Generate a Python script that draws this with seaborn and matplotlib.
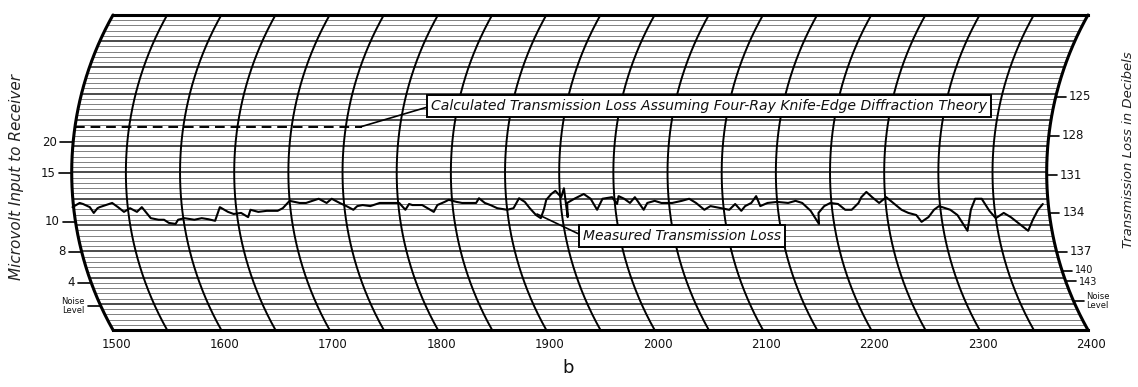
import numpy as np
import pandas as pd
import matplotlib
matplotlib.use("Agg")
import matplotlib.pyplot as plt
import seaborn as sns

# ---------------- data ----------------
time_ticks = [1500, 1600, 1700, 1800, 1900, 2000, 2100, 2200, 2300, 2400]
time_lines = list(range(1500, 2401, 50))

left_tick_labels = ["20", "15", "10", "8", "4", "Noise\nLevel"]
left_tick_levels = [35.8, 29.9, 20.6, 14.9, 9.0, 4.6]

right_tick_labels = ["125", "128", "131", "134", "137", "140", "143", "Noise\nLevel"]
right_tick_levels = [44.4, 37.0, 29.5, 22.3, 14.9, 11.2, 9.3, 5.5]

calc_level = 38.7
calc_time = [1500, 1765]

trace_time = [1499, 1506, 1509, 1515, 1518, 1522, 1524, 1536, 1541, 1546, 1552, 1558,
              1563, 1570, 1577, 1582, 1586, 1592, 1595, 1601, 1610, 1617, 1623, 1629,
              1635, 1642, 1647, 1654, 1660, 1663, 1670, 1678, 1688, 1693, 1700, 1709,
              1715, 1721, 1727, 1734, 1739, 1746, 1752, 1758, 1762, 1767, 1774, 1783,
              1792, 1801, 1806, 1810, 1813, 1822, 1829, 1832, 1836, 1843, 1847, 1854,
              1859, 1866, 1872, 1875, 1880, 1885, 1891, 1900, 1906, 1912, 1917, 1921,
              1926, 1930, 1934, 1937, 1942, 1946, 1951, 1954, 1955, 1956, 1963, 1972,
              1978, 1983, 1989, 1998, 2002, 2004, 2009, 2014, 2019, 2026, 2030, 2037,
              2043, 2053, 2062, 2069, 2075, 2082, 2088, 2098, 2105, 2111, 2116, 2120,
              2126, 2131, 2134, 2141, 2150, 2160, 2167, 2173, 2180, 2182, 2186, 2187,
              2193, 2199, 2206, 2212, 2218, 2225, 2228, 2233, 2238, 2244, 2251, 2257,
              2264, 2270, 2277, 2281, 2288, 2294, 2299, 2309, 2315, 2322, 2328, 2333,
              2339, 2345, 2350, 2358, 2364, 2371, 2378, 2384, 2390, 2395]
trace_level = [23.4, 24.2, 24.0, 23.4, 22.3, 23.2, 23.4, 24.2, 23.4, 22.5, 23.2, 22.5,
               23.4, 21.3, 21.0, 21.0, 20.4, 20.2, 21.0, 21.3, 21.0, 21.3, 21.1, 20.8,
               23.4, 22.5, 22.1, 22.3, 21.5, 22.9, 22.5, 22.7, 22.7, 23.2, 24.6, 24.2,
               24.2, 24.6, 25.0, 24.2, 25.0, 24.2, 23.6, 22.9, 23.6, 23.8, 23.6, 24.2,
               24.2, 24.2, 22.9, 24.0, 23.8, 23.8, 22.9, 22.5, 23.8, 24.4, 24.8, 24.4,
               24.2, 24.2, 24.2, 25.1, 24.2, 23.8, 23.2, 22.9, 23.2, 25.1, 24.4, 23.2,
               21.9, 21.3, 23.0, 24.8, 25.9, 26.5, 25.3, 27.0, 21.5, 24.2, 25.0, 25.9,
               25.0, 22.9, 25.0, 25.3, 24.0, 25.5, 25.0, 24.2, 25.3, 22.9, 24.2, 24.6,
               24.2, 24.2, 24.6, 25.0, 24.2, 22.9, 23.6, 23.2, 22.9, 24.0, 22.7, 23.6,
               24.2, 25.5, 23.6, 24.2, 24.4, 24.2, 24.6, 24.2, 22.7, 21.9, 20.2, 22.3,
               23.6, 24.2, 24.0, 22.9, 22.9, 24.2, 25.3, 26.3, 25.3, 24.2, 25.3, 24.2,
               22.9, 22.3, 21.9, 20.6, 21.5, 22.9, 23.6, 22.9, 21.9, 18.9, 22.9, 25.0,
               25.0, 22.7, 21.3, 22.3, 21.5, 20.2, 18.9, 21.0, 22.9, 24.0]

caption = "b"
left_title = "Microvolt Input to Receiver"
right_title = "Transmission Loss in Decibels"
calc_note = "Calculated Transmission Loss Assuming Four-Ray Knife-Edge Diffraction Theory"
meas_note = "Measured Transmission Loss"

# ---------------- chart geometry (recorder paper) ----------------
W, H, DPI = 1138, 387, 100
PX_T = 1.0833          # pixels per time unit
PX_D = 5.25            # pixels per chart division
X_ORG, Y_ORG = 113, 330  # pixel position of (1500, 0)
N_DIV = 60
R_ARC = 321.0
MID = N_DIV / 2
BULGE = R_ARC - np.sqrt(R_ARC**2 - (MID * PX_D) ** 2)


def arc_shift(level):
    d = (np.asarray(level, dtype=float) - MID) * PX_D
    return (R_ARC - np.sqrt(R_ARC**2 - d**2) - BULGE) / PX_T


def px(x, y):
    return 1500 + (x - X_ORG) / PX_T, (Y_ORG - y) / PX_D


sns.set_theme(style="white")
plt.rcParams["font.family"] = ["DejaVu Sans"]

fig = plt.figure(figsize=(W / DPI, H / DPI), dpi=DPI)
ax = fig.add_axes([0, 0, 1, 1])
ax.set_xlim(1500 - X_ORG / PX_T, 1500 + (W - X_ORG) / PX_T)
ax.set_ylim(-(H - Y_ORG) / PX_D, Y_ORG / PX_D)
ax.axis("off")

# horizontal rulings
for k in range(1, N_DIV):
    s = arc_shift(k)
    major = (k % 5 == 0)
    ax.plot([time_lines[0] + s, time_lines[-1] + s], [k, k],
            color="#1a1a1a" if major else "#808080",
            lw=1.1 if major else 0.7, zorder=1, solid_capstyle="butt")

# curved time lines
lv = np.linspace(0, N_DIV, 200)
for i, t in enumerate(time_lines):
    edge = i in (0, len(time_lines) - 1)
    ax.plot(t + arc_shift(lv), lv, color="black", lw=2.2 if edge else 1.4, zorder=2)
for k in (0, N_DIV):
    ax.plot([time_lines[0], time_lines[-1]], [k, k], color="black", lw=2.2, zorder=2,
            solid_capstyle="projecting")

# calculated loss (dashed)
ax.plot(np.array(calc_time) + arc_shift(calc_level), [calc_level, calc_level],
        color="black", lw=1.4, ls=(0, (5, 3)), zorder=3)

# measured trace
df = pd.DataFrame({"time": trace_time, "level": trace_level})
df["x"] = df["time"] + arc_shift(df["level"])
sns.lineplot(data=df, x="x", y="level", sort=False, estimator=None,
             color="black", lw=1.5, ax=ax, zorder=4)

# left ticks
for lab, l in zip(left_tick_labels, left_tick_levels):
    xe = time_lines[0] + arc_shift(l)
    ax.plot([xe - 13 / PX_T, xe - 1 / PX_T], [l, l], color="black", lw=1.2)
    fs = 6 if "\n" in lab else 8.5
    ax.text(xe - 16 / PX_T, l, lab, ha="right", va="center", fontsize=fs,
            linespacing=0.95, color="#111")

# right ticks
nudge = {"140": 0.25, "143": -0.25}
for lab, l in zip(right_tick_labels, right_tick_levels):
    xe = time_lines[-1] + arc_shift(l)
    ax.plot([xe + 1 / PX_T, xe + 10 / PX_T], [l, l], color="black", lw=1.2)
    fs = 6 if "\n" in lab else (7 if lab in nudge else 8.5)
    ax.text(xe + 13 / PX_T, l + nudge.get(lab, 0), lab, ha="left", va="center",
            fontsize=fs, linespacing=0.95, color="#111")

# bottom time labels
for t in time_ticks:
    ax.text(t + 3 / PX_T, px(0, 345)[1], str(t), ha="center", va="center",
            fontsize=8.5, color="#111")

# axis titles
x, y = px(17, 177)
ax.text(x, y, left_title, rotation=90, ha="center", va="center",
        fontsize=11, style="italic", color="#222")
x, y = px(1129, 150)
ax.text(x, y, right_title, rotation=90, ha="center", va="center",
        fontsize=9.5, style="italic", color="#222")

# caption
x, y = px(568, 368)
ax.text(x, y, caption, ha="center", va="center", fontsize=13, color="#111")

# annotations
box = dict(boxstyle="square,pad=0.3", fc="white", ec="black", lw=1.4)
ax.annotate(calc_note, xy=px(360, 127), xytext=px(431, 106), ha="left", va="center",
            fontsize=10.1, fontstyle="italic", color="#111", bbox=box, zorder=6,
            arrowprops=dict(arrowstyle="-", color="black", lw=1.2, relpos=(0, 0.5),
                            shrinkA=0, shrinkB=0))
ax.annotate(meas_note, xy=px(537, 214), xytext=px(583, 236), ha="left", va="center",
            fontsize=10, fontstyle="italic", color="#111", bbox=box, zorder=6,
            arrowprops=dict(arrowstyle="-", color="black", lw=1.2, relpos=(0, 0.5),
                            shrinkA=0, shrinkB=0))

fig.savefig("out.png", dpi=DPI, facecolor="white")
